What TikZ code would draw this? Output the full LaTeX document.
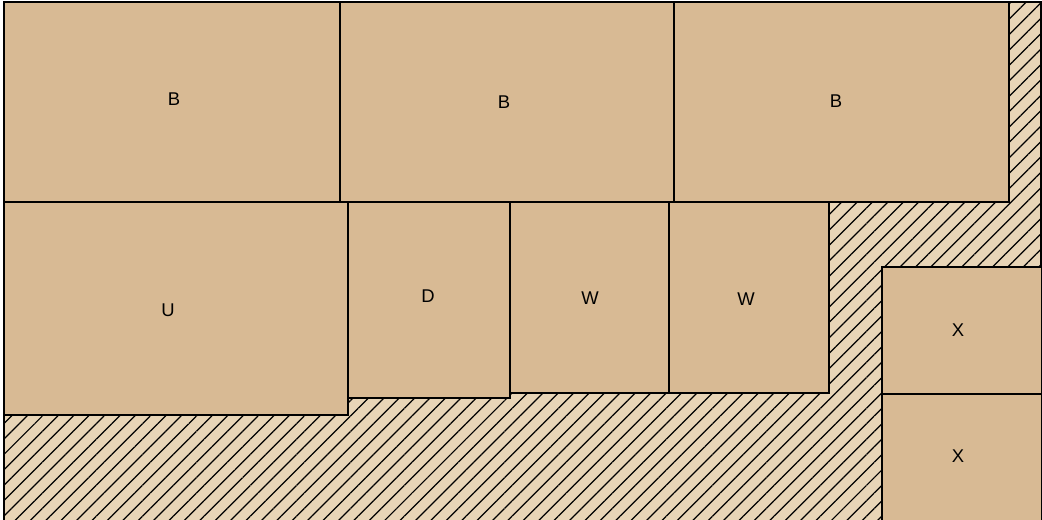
\documentclass[tikz,border=0pt]{standalone}
\usepackage{fontspec}
\setmainfont{Liberation Sans}
\usetikzlibrary{patterns.meta}
\definecolor{roomtan}{RGB}{216,186,148}
\definecolor{groundsand}{RGB}{232,213,183}

\begin{document}
\begin{tikzpicture}[x=0.02cm, y=-0.02cm, line width=0.7pt,
  room/.style={draw, fill=roomtan},
  tag/.style={font=\fontsize{10.5}{12}\selectfont}]
  \useasboundingbox (0,0) rectangle (1042,520);

  % hatched ground
  \fill[groundsand] (4,2) rectangle (1041,520);
  \fill[pattern={Lines[angle=45, distance=6.2pt, line width=0.7pt]}] (4,2) rectangle (1041,520);
  \draw (4,522) -- (4,2) -- (1041,2) -- (1041,522);

  % top row
  \draw[room] (4,2) rectangle (340,202);
  \draw[room] (340,2) rectangle (674,202);
  \draw[room] (674,2) rectangle (1009,202);
  \node[tag] (b1) at (174,99) {B};
  \node[tag] (b2) at (504,102) {B};
  \node[tag] (b3) at (836,101) {B};

  % middle row
  \draw[room] (4,202) rectangle (348,415);
  \draw[room] (348,202) rectangle (510,398);
  \draw[room] (510,202) rectangle (669,393);
  \draw[room] (669,202) rectangle (829,393);
  \node[tag] (u) at (168,310) {U};
  \node[tag] (d) at (428,296) {D};
  \node[tag] (w1) at (590,298) {W};
  \node[tag] (w2) at (746,299) {W};

  % right column
  \draw[room] (882,267) rectangle (1042,394);
  \draw[room] (882,394) rectangle (1042,524);
  \node[tag] (x1) at (958,330) {X};
  \node[tag] (x2) at (958,456) {X};
\end{tikzpicture}
\end{document}
